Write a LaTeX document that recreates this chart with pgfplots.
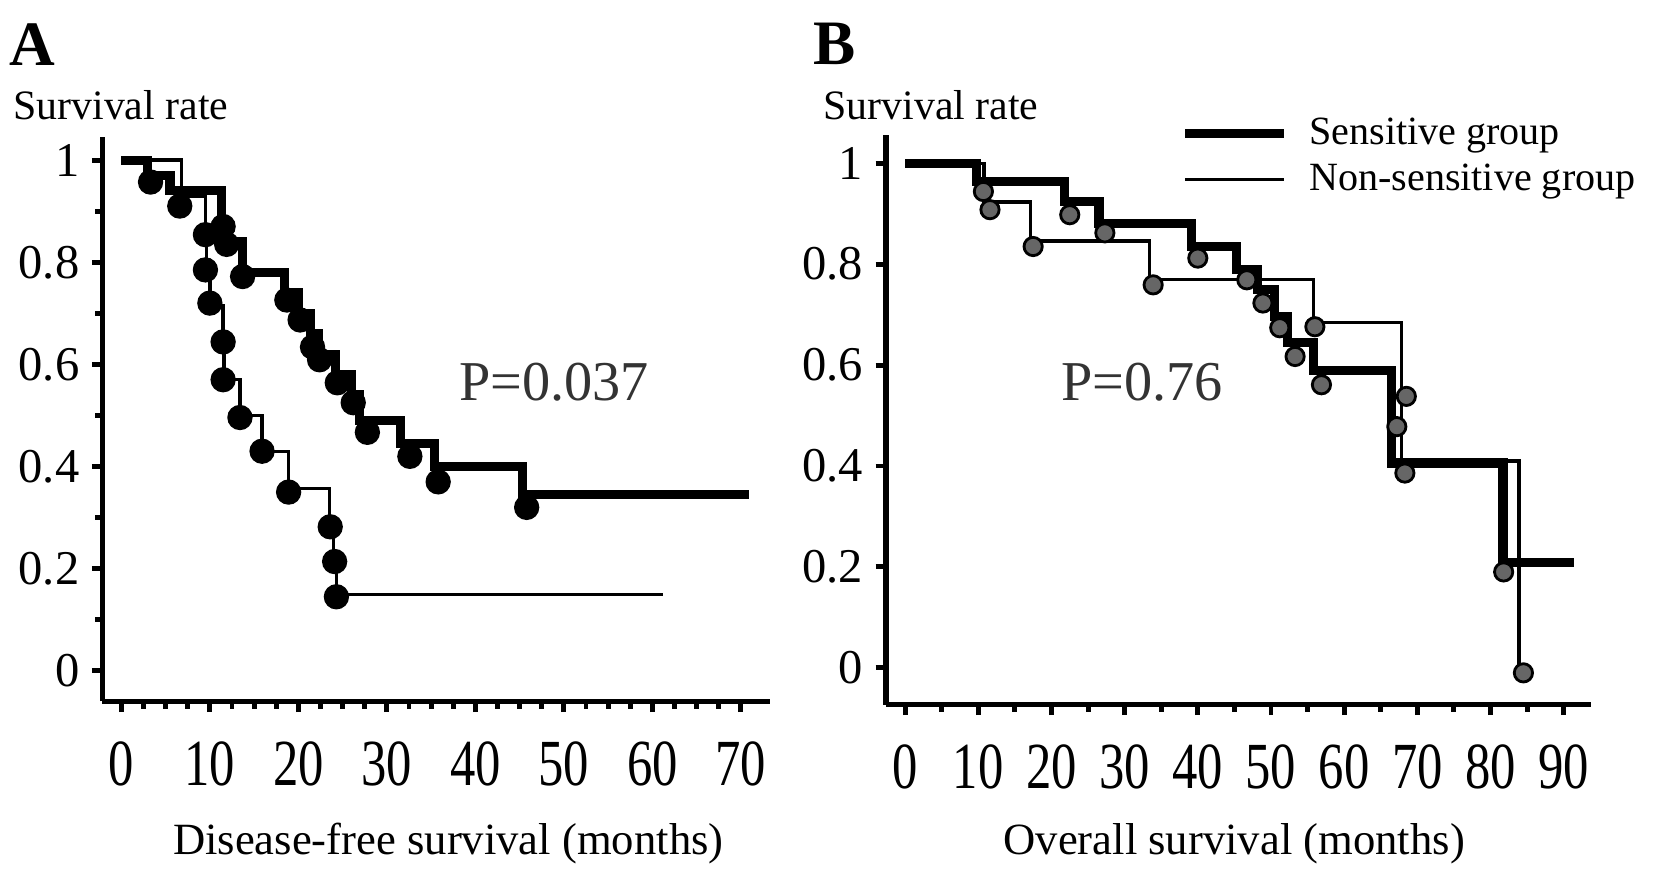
\documentclass[border=0pt]{standalone}
\usepackage{fontspec}
\setmainfont{Liberation Serif}
\usepackage{graphicx}
\usepackage{pgfplots}
\pgfplotsset{compat=1.18}

\pgfplotsset{
  kmaxis/.style={
    scale only axis,
    axis x line=bottom, axis y line=left,
    axis line style={-, line width=1.6pt},
    tick align=outside,
    tick style={black, line width=1.4pt},
    major tick length=3pt, minor tick length=2pt,
    ytick={0,0.2,0.4,0.6,0.8,1},
    yticklabels={0,0.2,0.4,0.6,0.8,1},
    yticklabel style={font=\fontsize{13.8}{16}\selectfont},
    xticklabel style={font=\fontsize{14.4}{16}\selectfont, yshift=-5pt},
    xticklabel={\scalebox{1}[1.3]{\pgfmathprintnumber{\tick}}},
    /pgf/number format/assume math mode=true,
    clip=false,
  },
  thickkm/.style={black, line width=2.6pt, const plot},
  thinkm/.style={black, line width=0.95pt, const plot},
}

\begin{document}
\begin{tikzpicture}
\useasboundingbox (0,0) rectangle (470.4pt,-247.8pt);

% panel A: disease-free survival
\begin{axis}[kmaxis,
  at={(29.1pt,-199.5pt)}, anchor=south west,
  width=189.9pt, height=160.5pt,
  xmin=-2.15, xmax=73.3, ymin=-0.06, ymax=1.045,
  xtick={0,10,...,70}, minor x tick num=3, minor y tick num=1,
]
\addplot[thickkm] coordinates {
  (0,1)(3.0,0.97)(5.5,0.94)(11.3,0.88)(11.9,0.84)(13.7,0.78)(18.4,0.74)
  (20.0,0.70)(21.4,0.66)(22.3,0.62)(24.2,0.58)(26.0,0.54)(26.9,0.49)
  (31.5,0.445)(35.4,0.40)(45.3,0.345)(70.9,0.345)
};
\addplot[thinkm] coordinates {
  (0,1)(6.8,0.929)(9.5,0.857)(9.6,0.786)(10.0,0.714)(11.5,0.643)(11.6,0.571)
  (13.4,0.5)(15.9,0.429)(18.9,0.357)(23.5,0.286)(24.0,0.214)(24.3,0.15)(61.2,0.15)
};
\addplot[only marks, mark=*, mark size=3.4pt, mark options={fill=black, draw=black}] coordinates {
  (3.3,0.957)(11.5,0.87)(11.9,0.835)(13.7,0.772)(18.7,0.726)(20.2,0.687)
  (21.6,0.634)(22.4,0.609)(24.4,0.564)(26.2,0.525)(27.8,0.467)(32.6,0.42)
  (35.8,0.37)(45.8,0.32)
};
\addplot[only marks, mark=*, mark size=3.4pt, mark options={fill=black, draw=black}] coordinates {
  (6.6,0.91)(9.5,0.854)(9.5,0.785)(10.0,0.72)(11.5,0.644)(11.5,0.57)
  (13.4,0.496)(15.9,0.43)(18.9,0.35)(23.6,0.282)(24.1,0.214)(24.3,0.145)
};
\node[font=\fontsize{16}{18}\selectfont, text=black!80] at (axis cs:48.9,0.566) {P=0.037};
\end{axis}

% panel B: overall survival
\begin{axis}[kmaxis,
  at={(252pt,-200.4pt)}, anchor=south west,
  width=200.4pt, height=162pt,
  xmin=-2.6, xmax=93.7, ymin=-0.073, ymax=1.056,
  xtick={0,10,...,90}, minor x tick num=1,
  legend cell align=left,
  legend image code/.code={\draw[#1] (0pt,0pt) -- (28pt,0pt);},
  legend style={at={(0.402,1.056)}, anchor=north west, draw=none, fill=none,
    font=\fontsize{11.4}{13.5}\selectfont, row sep=0pt,
    /tikz/every odd column/.append style={column sep=4pt}},
]
\addlegendimage{black, line width=2.6pt}
\addlegendentry{Sensitive group}
\addlegendimage{black, line width=0.95pt}
\addlegendentry{Non-sensitive group}
\addplot[thickkm, forget plot] coordinates {
  (0,1)(9.8,0.964)(21.8,0.924)(26.5,0.881)(39.1,0.835)(45.3,0.789)(48.2,0.749)
  (50.5,0.696)(52.3,0.644)(55.8,0.59)(66.5,0.406)(81.7,0.209)(91.4,0.209)
};
\addplot[thinkm, forget plot] coordinates {
  (0,1)(10.8,0.923)(17.1,0.846)(33.4,0.769)(55.8,0.684)(67.8,0.41)(83.9,0.0)
};
\addplot[only marks, forget plot, mark=*, mark size=2.6pt,
  mark options={fill=black!60, draw=black, line width=0.8pt}] coordinates {
  (10.7,0.944)(22.5,0.898)(27.3,0.862)(40,0.812)(46.7,0.769)(48.9,0.723)
  (51.2,0.674)(53.3,0.617)(56.9,0.561)(67.2,0.478)(68.3,0.386)(81.8,0.19)
};
\addplot[only marks, forget plot, mark=*, mark size=2.6pt,
  mark options={fill=black!60, draw=black, line width=0.8pt}] coordinates {
  (11.6,0.908)(17.5,0.835)(33.9,0.759)(56,0.676)(68.5,0.538)(84.5,-0.01)
};
\node[font=\fontsize{16}{18}\selectfont, text=black!80] at (axis cs:32.4,0.567) {P=0.76};
\end{axis}

% panel letters and axis titles
\node[font=\fontsize{18}{20}\selectfont\bfseries] at (9.3pt,-12.6pt) {A};
\node[font=\fontsize{18}{20}\selectfont\bfseries] at (237.3pt,-12.6pt) {B};
\node[anchor=west, font=\fontsize{11.9}{14}\selectfont, inner sep=0pt] at (3.6pt,-30pt) {Survival rate};
\node[anchor=west, font=\fontsize{11.9}{14}\selectfont, inner sep=0pt] at (234pt,-30pt) {Survival rate};
\node[font=\fontsize{12.7}{15}\selectfont] at (127.5pt,-240pt) {Disease-free survival (months)};
\node[font=\fontsize{12.7}{15}\selectfont] at (351pt,-240pt) {Overall survival (months)};
\end{tikzpicture}
\end{document}
